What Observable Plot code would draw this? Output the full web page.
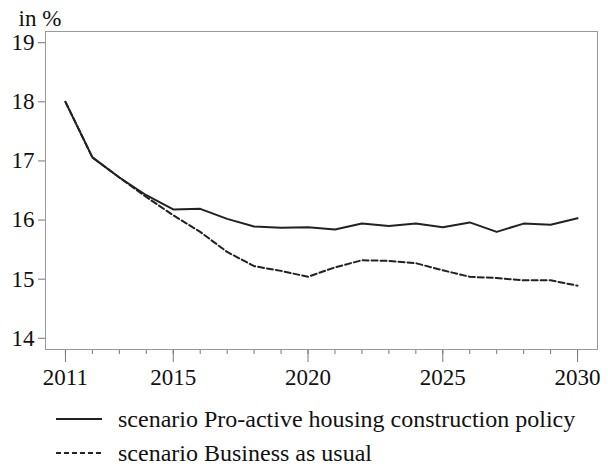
<!DOCTYPE html>
<html>
<head>
<meta charset="utf-8">
<script src="https://cdn.jsdelivr.net/npm/d3@7"></script>
<script src="https://cdn.jsdelivr.net/npm/@observablehq/plot@0.6"></script>
<style>
  html, body { margin: 0; padding: 0; background: #fff; }
  body { width: 608px; height: 468px; overflow: hidden; font-family: "Liberation Serif", "Times New Roman", serif; color: #111; }
  svg text { font-family: "Liberation Serif", "Times New Roman", Times, serif; }
  .legend { padding-top: 4px; }
  .row { display: flex; align-items: center; height: 34px; font-size: 24px; line-height: 1; }
  .row svg { margin-left: 56px; margin-right: 16px; }
</style>
</head>
<body>
<div id="chart"></div>
<div class="legend" id="legend"></div>
<script>
const years = [2011, 2012, 2013, 2014, 2015, 2016, 2017, 2018, 2019, 2020,
               2021, 2022, 2023, 2024, 2025, 2026, 2027, 2028, 2029, 2030];
const majorYears = [2011, 2015, 2020, 2025, 2030];
const yTicks = [14, 15, 16, 17, 18, 19];
const proactive = [18.00, 17.06, 16.72, 16.42, 16.18, 16.19, 16.02, 15.89, 15.87, 15.88,
                   15.84, 15.94, 15.90, 15.94, 15.88, 15.96, 15.80, 15.94, 15.92, 16.03];
const businessAsUsual = [18.00, 17.06, 16.72, 16.39, 16.08, 15.80, 15.46, 15.22, 15.14, 15.04,
                         15.20, 15.32, 15.31, 15.27, 15.15, 15.04, 15.02, 14.98, 14.98, 14.89];
const seriesNames = ["scenario Pro-active housing construction policy", "scenario Business as usual"];
const unitLabel = "in %";

const dataP = years.map((year, i) => ({year, value: proactive[i]}));
const dataB = years.map((year, i) => ({year, value: businessAsUsual[i]}));

const serif = "'Liberation Serif', 'Times New Roman', Times, serif";
const chart = Plot.plot({
  width: 608,
  height: 398,
  marginTop: 31,
  marginRight: 11,
  marginBottom: 49,
  marginLeft: 45,
  style: {fontFamily: serif, fontSize: "23px", color: "#111", background: "white", overflow: "visible"},
  x: {domain: [2010.26, 2030.74]},
  y: {domain: [13.81, 19.19]},
  marks: [
    Plot.axisY({ticks: yTicks, tickSize: 7, tickPadding: 4, stroke: "#777", tickFormat: d => String(d), label: null, fontSize: 23}),
    Plot.axisX({ticks: years, tickSize: 5, tickFormat: () => "", label: null, stroke: "#777"}),
    Plot.axisX({ticks: majorYears, tickSize: 13, tickPadding: 6, tickFormat: d => String(d), label: null, stroke: "#777", fontSize: 23}),
    Plot.frame({stroke: "#999"}),
    Plot.line(dataP, {x: "year", y: "value", stroke: "#222", strokeWidth: 2}),
    Plot.line(dataB, {x: "year", y: "value", stroke: "#222", strokeWidth: 2, strokeDasharray: "6,3"}),
    Plot.text([unitLabel], {frameAnchor: "top-left", dx: -27, dy: -13, textAnchor: "start", lineAnchor: "middle", fontSize: 23, fill: "#111"})
  ]
});
document.getElementById("chart").appendChild(chart);
chart.querySelectorAll("text").forEach(t => { t.style.fontFamily = serif; t.setAttribute("font-family", serif); });

const legend = document.getElementById("legend");
const dashes = [null, "5,3"];
seriesNames.forEach((name, i) => {
  const row = document.createElement("div");
  row.className = "row";
  row.innerHTML = `<svg width="46" height="6"><line x1="0" y1="3" x2="46" y2="3" stroke="#222" stroke-width="2" ${dashes[i] ? `stroke-dasharray="${dashes[i]}"` : ""}/></svg><span>${name}</span>`;
  legend.appendChild(row);
});
</script>
</body>
</html>
